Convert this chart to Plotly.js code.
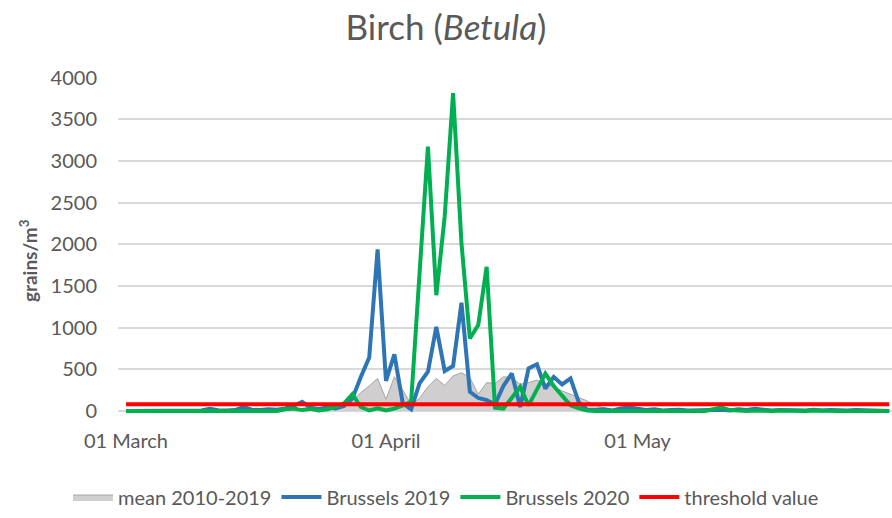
<!DOCTYPE html>
<html>
<head>
<meta charset="utf-8">
<script src="https://cdn.plot.ly/plotly-3.0.1.min.js"></script>
<style>html,body{margin:0;padding:0;background:#fff;}#chart{width:892px;height:518px;}</style>
</head>
<body>
<div id="chart"></div>
<script>
// Daily values, 01 March (index 0) to 31 May (index 91), grains/m³
const MEAN_2010_2019 = [
  2,2,3,3,3,4,4,5,5,5,
  6,6,7,8,8,9,10,10,12,14,
  15,20,18,20,25,40,70,120,220,300,
  390,140,410,250,80,150,290,390,308,420,
  460,400,200,340,330,410,400,320,340,370,
  330,290,240,200,160,120,70,35,15,10,
  8,8,7,6,6,5,5,5,4,4,
  4,4,3,3,3,3,3,2,2,2,
  2,2,2,2,2,1,1,1,1,1,1,1
];
const BRUSSELS_2019 = [
  0,0,0,5,0,0,5,0,0,5,
  25,8,5,10,45,15,10,20,15,30,
  60,110,40,20,45,30,60,150,408,640,
  1940,360,680,90,20,330,470,1010,480,540,
  1300,230,155,130,80,300,450,47,510,560,
  268,408,318,390,100,15,10,20,5,30,
  40,30,10,20,5,10,15,5,10,5,
  10,15,5,20,10,25,15,5,10,5,
  10,5,15,5,10,5,5,10,5,0,5,0
];
const BRUSSELS_2020 = [
  0,0,0,0,0,0,0,0,0,0,
  0,0,10,0,0,0,10,5,0,20,
  30,10,25,5,20,50,90,200,47,5,
  30,5,28,67,110,1650,3175,1390,2333,3817,
  2013,870,1030,1731,40,28,160,288,67,250,
  449,300,190,67,30,5,0,0,0,0,
  0,0,5,0,0,0,10,0,0,0,
  20,40,10,0,0,5,0,0,5,0,
  0,0,5,0,0,0,0,5,0,0,0,0
];
const THRESHOLD = 80;
const TICK_DAYS = [0, 31, 61];
const TICK_LABELS = ['01 March', '01 April', '01 May'];
const SERIES_NAMES = ['mean 2010-2019', 'Brussels 2019', 'Brussels 2020', 'threshold value'];

const days = MEAN_2010_2019.map((_, i) => i);
const lastDay = days[days.length - 1];

const FONT = 'Lato, "Open Sans", sans-serif';
const GREY = '#595959';

const traces = [
  {x: days, y: MEAN_2010_2019, name: SERIES_NAMES[0], type: 'scatter', mode: 'lines',
   fill: 'tozeroy', fillcolor: '#d0cece', line: {color: '#a6a6a6', width: 1}},
  {x: days, y: BRUSSELS_2019, name: SERIES_NAMES[1], type: 'scatter', mode: 'lines',
   line: {color: '#2e75b6', width: 4}},
  {x: days, y: BRUSSELS_2020, name: SERIES_NAMES[2], type: 'scatter', mode: 'lines',
   line: {color: '#00b050', width: 4}},
  {x: [days[0], lastDay], y: [THRESHOLD, THRESHOLD], name: SERIES_NAMES[3], type: 'scatter', mode: 'lines',
   line: {color: '#ff0000', width: 4}}
];

const layout = {
  width: 892, height: 518,
  paper_bgcolor: '#fff', plot_bgcolor: '#fff',
  margin: {l: 118, r: 0, t: 77.2, b: 105.3},
  font: {family: FONT, color: GREY, size: 20},
  title: {text: 'Birch (<i>Betula</i>)', font: {family: FONT, size: 35, color: GREY},
          x: 0.5, xref: 'container', xanchor: 'center', y: 1 - 28/518, yref: 'container', yanchor: 'middle'},
  xaxis: {range: [-0.95, 91.33], tickmode: 'array', tickvals: TICK_DAYS, ticktext: TICK_LABELS,
          showgrid: false, zeroline: false, showline: false, ticks: '', ticklabelstandoff: 14,
          tickfont: {family: FONT, size: 20, color: GREY}},
  yaxis: {range: [-25, 4010], tickmode: 'linear', tick0: 0, dtick: 500, tickformat: 'd',
          showgrid: true, gridcolor: '#d9d9d9', gridwidth: 2, zeroline: false, showline: false,
          ticks: '', ticklabelstandoff: 20,
          tickfont: {family: FONT, size: 20, color: GREY}},
  annotations: [{text: '<b>grains/m<sup>3</sup></b>', textangle: -90, showarrow: false,
                 xref: 'paper', yref: 'paper', x: (28 - 118) / 774, y: (412.7 - 261) / 335.5,
                 xanchor: 'center', yanchor: 'middle', font: {family: FONT, size: 19, color: GREY}}],
  showlegend: true,
  legend: {orientation: 'h', xref: 'container', x: 0.5, xanchor: 'center', yref: 'container', y: 1 - 497/518, yanchor: 'middle',
           font: {family: FONT, size: 20, color: GREY}, itemwidth: 40, traceorder: 'normal'}
};

Plotly.newPlot('chart', traces, layout, {displayModeBar: false, staticPlot: true});
</script>
</body>
</html>
